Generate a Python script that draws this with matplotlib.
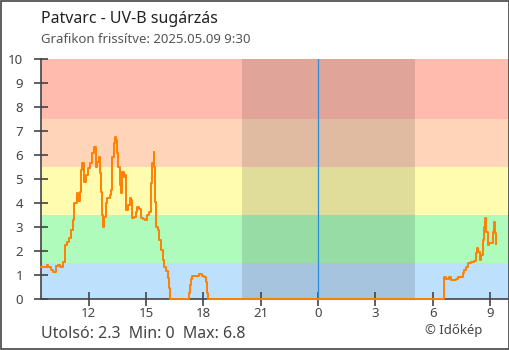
import matplotlib.pyplot as plt
from matplotlib.patches import Rectangle

plt.rcParams['font.family'] = ['Noto Sans', 'DejaVu Sans']

# idő (óra, 24 felett = másnap) és UV-B érték
hours = [9.50, 9.71, 9.80, 9.88, 10.00, 10.14, 10.28, 10.40, 10.52, 10.63,
         10.75, 10.84, 10.98, 11.06, 11.15, 11.24, 11.36, 11.44, 11.53, 11.62,
         11.67, 11.76, 11.84, 11.97, 12.09, 12.19, 12.28, 12.36, 12.45, 12.54,
         12.61, 12.66, 12.71, 12.75, 12.80, 12.89, 12.97, 13.09, 13.16, 13.23,
         13.30, 13.35, 13.41, 13.48, 13.55, 13.61, 13.67, 13.74, 13.82, 13.91,
         13.96, 14.05, 14.14, 14.19, 14.26, 14.36, 14.45, 14.53, 14.62, 14.71,
         14.83, 14.95, 15.06, 15.18, 15.26, 15.32, 15.39, 15.42, 15.49, 15.54,
         15.61, 15.70, 15.78, 15.87, 15.96, 16.05, 16.13, 16.22, 16.27, 17.17,
         17.23, 17.29, 17.35, 17.40, 17.61, 17.78, 17.95, 18.04, 18.13, 18.18,
         18.23, 30.51, 30.59, 30.72, 30.84, 30.98, 31.12, 31.24, 31.32, 31.50,
         31.58, 31.67, 31.76, 31.84, 32.02, 32.19, 32.28, 32.33, 32.40, 32.47,
         32.54, 32.63, 32.71, 32.76, 32.82, 32.89, 32.97, 33.09, 33.16, 33.23,
         33.27, 33.34]
uv = [1.35, 1.35, 1.43, 1.32, 1.21, 1.12, 1.38, 1.43, 1.35, 1.56,
      2.25, 2.39, 2.53, 2.88, 3.29, 3.99, 4.40, 4.10, 4.47, 5.37,
      5.65, 4.89, 5.17, 5.44, 5.65, 6.07, 6.35, 5.51, 5.72, 5.93,
      5.24, 4.47, 3.50, 3.01, 3.42, 3.99, 4.20, 4.33, 4.54, 5.93,
      6.49, 6.76, 6.63, 6.07, 5.51, 4.75, 4.40, 5.31, 5.10, 5.17,
      3.71, 3.92, 4.20, 4.13, 3.36, 3.40, 3.64, 3.82, 3.74, 3.36,
      3.32, 3.29, 3.50, 3.64, 4.82, 5.65, 6.14, 5.51, 4.03, 3.01,
      2.88, 2.46, 2.04, 1.63, 1.35, 1.15, 0.86, 0.44, 0.00, 0.00,
      0.24, 0.58, 0.83, 0.96, 0.96, 1.04, 0.94, 0.90, 0.69, 0.24,
      0.00, 0.00, 0.93, 0.85, 0.90, 0.79, 0.79, 0.85, 0.93, 0.93,
      1.07, 1.21, 1.35, 1.49, 1.54, 1.57, 1.90, 2.11, 1.97, 1.63,
      1.83, 2.46, 3.01, 3.36, 2.80, 2.25, 2.32, 2.32, 2.80, 3.22,
      2.74, 2.30]

band_edges = [0, 1.5, 3.5, 5.5, 7.5, 10]
band_colors = ['#bde0fd', '#aefbbc', '#fffcb0', '#ffd4b8', '#ffbcae']
tick_pos = [12, 15, 18, 21, 24, 27, 30, 33]
tick_labels = ['12', '15', '18', '21', '0', '3', '6', '9']
night = (20.0, 29.1)
midnight = 24

fig = plt.figure(figsize=(5.1, 3.5), dpi=100)
ax = fig.add_axes([0.0804, 0.1457, 0.9176, 0.6857])

x0, x1 = 9.5, 34.0
for lo, hi, c in zip(band_edges[:-1], band_edges[1:], band_colors):
    ax.axhspan(lo, hi, color=c, lw=0, zorder=0)
ax.axvspan(night[0], night[1], color='black', alpha=0.12, lw=0, zorder=1)
ax.axvline(midnight, color='#2b8ed8', lw=0.9, zorder=2)

ax.plot(hours, uv, drawstyle='steps-post', color='#ff8000', lw=1.4,
        zorder=5, clip_on=False)

ax.set_xlim(x0, x1)
ax.set_ylim(0, 10)
ax.set_yticks(range(11))
ax.set_xticks(tick_pos)
ax.set_xticklabels(tick_labels)
for s in ['top', 'right']:
    ax.spines[s].set_visible(False)
for s in ['left', 'bottom']:
    ax.spines[s].set_color('#444444')
    ax.spines[s].set_linewidth(1.2)
ax.tick_params(axis='both', direction='inout', length=10, width=1.2,
               color='#444444', labelcolor='#444444', labelsize=9.5)
ax.tick_params(axis='y', pad=8)
ax.tick_params(axis='x', pad=1)

fig.text(0.080, 0.946, 'Patvarc - UV-B sugárzás', fontsize=11.5,
         color='#222222', va='center')
fig.text(0.080, 0.886, 'Grafikon frissítve: 2025.05.09 9:30', fontsize=9.5,
         color='#555555', va='center')
fig.text(0.080, 0.047, 'Utolsó: 2.3  Min: 0  Max: 6.8', fontsize=11.5,
         color='#444444', va='center')
fig.text(0.945, 0.055, '© Időkép', fontsize=9.5, color='#444444',
         va='center', ha='right')

fig.patches.append(Rectangle((0.001, 0.0015), 0.997, 0.996,
                             transform=fig.transFigure, fill=False,
                             edgecolor='#444444', lw=1.2))

fig.savefig('out.png', dpi=100)
